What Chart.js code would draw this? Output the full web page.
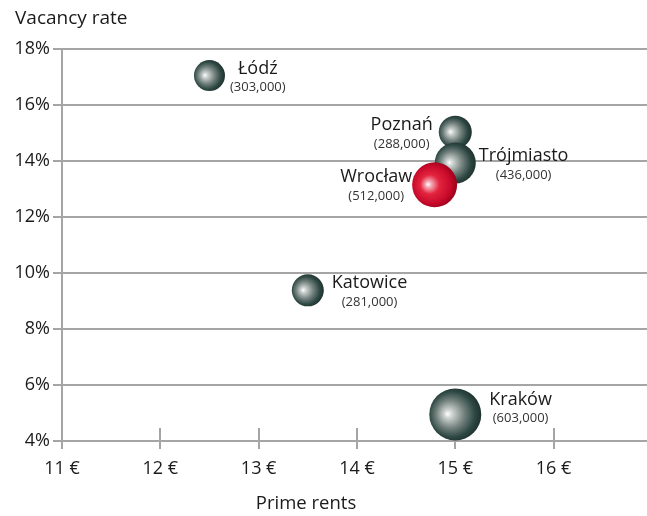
<!DOCTYPE html>
<html>
<head>
<meta charset="utf-8">
<script src="https://cdn.jsdelivr.net/npm/chart.js@4.4.1/dist/chart.umd.min.js"></script>
<style>
html,body{margin:0;padding:0;background:#fff;}
#wrap{width:647px;height:516px;position:relative;}
</style>
</head>
<body>
<div id="wrap"><canvas id="c" width="647" height="516"></canvas></div>
<script>
const cities = ['Łódź', 'Poznań', 'Trójmiasto', 'Wrocław', 'Katowice', 'Kraków'];
const primeRents = [12.5, 15.0, 15.0, 14.79, 13.5, 15.0];
const vacancyRates = [17.05, 15.03, 13.93, 13.15, 9.38, 4.95];
const populations = ['(303,000)', '(288,000)', '(436,000)', '(512,000)', '(281,000)', '(603,000)'];
const bubbleRadii = [15.5, 16.5, 20.5, 22.5, 16, 26];
const highlighted = [false, false, false, true, false, false];
const labelSide = ['right', 'left', 'right', 'left', 'right', 'right'];
const labelGap = [5, 6, 3, 0, 8, 8];
const labelShift = [0, 0, 0, -1, 0, -8];
const yTicks = [4, 6, 8, 10, 12, 14, 16, 18];
const xTicks = [11, 12, 13, 14, 15, 16];

const FONT = '"Open Sans", "Noto Sans", sans-serif';
const GRID = '#a5a5a5';

const points = cities.map((c, i) => ({x: primeRents[i], y: vacancyRates[i], r: bubbleRadii[i]}));

function sphereFill(ctx) {
  const base = (ctx.dataIndex !== undefined && highlighted[ctx.dataIndex]) ? '#d0122f' : '#2f4a44';
  if (ctx.type !== 'data') return base;
  const chart = ctx.chart;
  const raw = ctx.raw;
  const xs = chart.scales.x, ys = chart.scales.y;
  if (!xs || !ys || !raw) return base;
  const cx = xs.getPixelForValue(raw.x);
  const cy = ys.getPixelForValue(raw.y);
  const r = raw.r;
  if (![cx, cy, r].every(Number.isFinite)) return base;
  const g = chart.ctx.createRadialGradient(cx - r * 0.3, cy - r * 0.02, 0, cx - r * 0.08, cy, r * 1.12);
  if (highlighted[ctx.dataIndex]) {
    g.addColorStop(0, '#ffffff');
    g.addColorStop(0.12, '#f4aab6');
    g.addColorStop(0.38, '#e3253f');
    g.addColorStop(0.75, '#c8092a');
    g.addColorStop(1, '#92001a');
  } else {
    g.addColorStop(0, '#ffffff');
    g.addColorStop(0.15, '#cbd1cf');
    g.addColorStop(0.48, '#74827e');
    g.addColorStop(0.78, '#2e4843');
    g.addColorStop(1, '#1c2d29');
  }
  return g;
}

const labelPlugin = {
  id: 'cityLabels',
  afterDatasetsDraw(chart) {
    const ctx = chart.ctx;
    const meta = chart.getDatasetMeta(0);
    ctx.save();
    ctx.textBaseline = 'middle';
    ctx.textAlign = 'center';
    meta.data.forEach((el, i) => {
      const r = bubbleRadii[i];
      ctx.font = '18px ' + FONT;
      const w1 = ctx.measureText(cities[i]).width;
      ctx.font = '13px ' + FONT;
      const w2 = ctx.measureText(populations[i]).width;
      const w = Math.max(w1, w2);
      const gap = labelGap[i];
      const bx = labelSide[i] === 'right' ? el.x + r + gap + w / 2 : el.x - r - gap - w / 2;
      const dy = labelShift[i];
      ctx.fillStyle = '#1a1a1a';
      ctx.font = '18px ' + FONT;
      ctx.fillText(cities[i], bx, el.y - 7 + dy);
      ctx.fillStyle = '#333';
      ctx.font = '13px ' + FONT;
      ctx.fillText(populations[i], bx, el.y + 12 + dy);
    });
    ctx.restore();
  }
};

const axisPlugin = {
  id: 'axisExtras',
  beforeDatasetsDraw(chart) {
    const ctx = chart.ctx;
    const xs = chart.scales.x;
    const bottom = chart.chartArea.bottom;
    ctx.save();
    ctx.strokeStyle = GRID;
    ctx.lineWidth = 2;
    xTicks.forEach(v => {
      if (v === 11) return;
      const px = Math.round(xs.getPixelForValue(v));
      ctx.beginPath();
      ctx.moveTo(px, bottom - 13);
      ctx.lineTo(px, bottom);
      ctx.stroke();
    });
    ctx.restore();
  },
  afterDraw(chart) {
    const ctx = chart.ctx;
    ctx.save();
    ctx.fillStyle = '#1a1a1a';
    ctx.font = '19px ' + FONT;
    ctx.textBaseline = 'middle';
    ctx.textAlign = 'left';
    ctx.fillText('Vacancy rate', 15, 19);
    ctx.font = '18.5px ' + FONT;
    ctx.textAlign = 'center';
    ctx.fillText('Prime rents', 306, 504);
    ctx.restore();
  }
};

new Chart(document.getElementById('c'), {
  type: 'bubble',
  data: {
    datasets: [{
      data: points,
      backgroundColor: sphereFill,
      hoverBackgroundColor: sphereFill,
      borderWidth: 0,
      hoverBorderWidth: 0,
      clip: false
    }]
  },
  options: {
    responsive: false,
    animation: false,
    events: [],
    layout: {autoPadding: false, padding: {top: 49, right: 0, left: 0, bottom: 0}},
    plugins: {legend: {display: false}, tooltip: {enabled: false}, title: {display: false}},
    scales: {
      x: {
        type: 'linear',
        min: 11,
        max: 16.95,
        afterBuildTicks(scale) { scale.ticks = xTicks.map(v => ({value: v})); },
        afterFit(scale) { scale.height = 75; },
        grid: {drawOnChartArea: false, drawTicks: true, tickLength: 8, color: GRID, lineWidth: 2},
        border: {display: true, color: GRID, width: 2},
        ticks: {
          padding: 9,
          color: '#1a1a1a',
          font: {family: FONT, size: 18},
          maxRotation: 0,
          autoSkip: false,
          callback: v => v + ' €'
        }
      },
      y: {
        type: 'linear',
        min: 4,
        max: 18,
        afterBuildTicks(scale) { scale.ticks = yTicks.map(v => ({value: v})); },
        afterFit(scale) { scale.width = 62; },
        grid: {drawOnChartArea: true, drawTicks: true, tickLength: 9, color: GRID, lineWidth: 2},
        border: {display: true, color: GRID, width: 2},
        ticks: {
          padding: 3,
          color: '#1a1a1a',
          font: {family: FONT, size: 18},
          autoSkip: false,
          callback: v => v + '%'
        }
      }
    }
  },
  plugins: [axisPlugin, labelPlugin]
});
</script>
</body>
</html>
